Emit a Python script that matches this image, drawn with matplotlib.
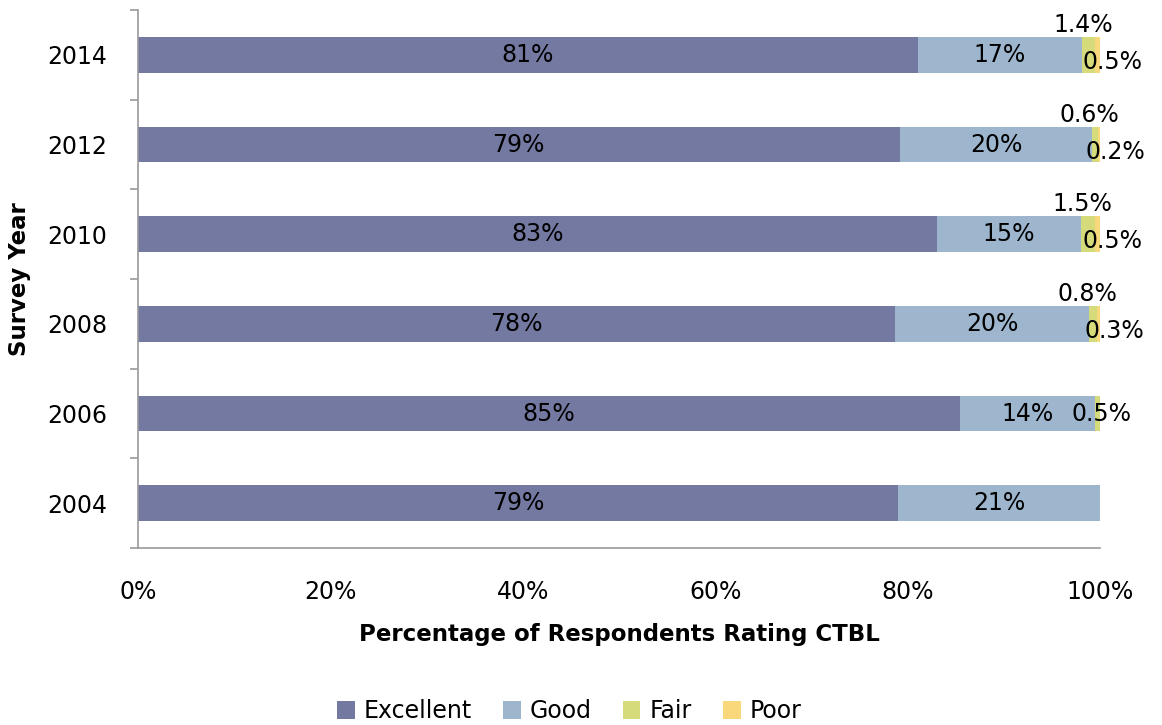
"""Survey ratings of CTBL by year, 100% stacked horizontal bars."""

import matplotlib
matplotlib.use("Agg")
import matplotlib.pyplot as plt
import numpy as np

years = ["2004", "2006", "2008", "2010", "2012", "2014"]
excellent = [79, 85, 78, 83, 79, 81]
good = [21, 14, 20, 15, 20, 17]
fair = [0, 0.5, 0.8, 1.5, 0.6, 1.4]
poor = [0, 0, 0.3, 0.5, 0.2, 0.5]

series_names = ["Excellent", "Good", "Fair", "Poor"]
colors = ["#7379A1", "#9DB6CD", "#D5DB7B", "#F9D87C"]

plt.rcParams["font.family"] = ["DejaVu Sans"]

raw = np.array([excellent, good, fair, poor], dtype=float)
totals = raw.sum(axis=0)
shares = raw / totals * 100  # Excel-style 100% stacking

fig = plt.figure(figsize=(11.62, 7.25), dpi=100)
ax = fig.add_axes([0.1188, 0.2441, 0.8279, 0.742])

y = np.arange(len(years))
left = np.zeros(len(years))
containers = []
for name, color, vals in zip(series_names, colors, shares):
    bars = ax.barh(y, vals, left=left, height=0.4, color=color, label=name,
                   linewidth=0)
    containers.append(bars)
    left += vals

lab_size = 17

# centered labels for the two big segments
for k in range(2):
    for rect, v in zip(containers[k], raw[k]):
        if v <= 0:
            continue
        cx = rect.get_x() + rect.get_width() / 2
        cy = rect.get_y() + rect.get_height() / 2
        ax.text(cx, cy, f"{v:.0f}%", ha="center", va="center", fontsize=lab_size)

# small segments: fair above the bar, poor to the right
for i in range(len(years)):
    f_rect = containers[2][i]
    p_rect = containers[3][i]
    cy = f_rect.get_y() + f_rect.get_height() / 2
    top = f_rect.get_y() + f_rect.get_height()
    if fair[i] > 0 and poor[i] > 0:
        cx = f_rect.get_x() + f_rect.get_width() / 2
        ax.annotate(f"{fair[i]:.1f}%", (cx, top), xytext=(-4, 0),
                    textcoords="offset points", ha="center", va="bottom",
                    fontsize=lab_size)
        ax.annotate(f"{poor[i]:.1f}%", (p_rect.get_x(), cy), xytext=(-9, -5),
                    textcoords="offset points", ha="left", va="center",
                    fontsize=lab_size)
    elif fair[i] > 0:
        cx = f_rect.get_x() + f_rect.get_width() / 2
        ax.annotate(f"{fair[i]:.1f}%", (cx, cy), xytext=(3, 0),
                    textcoords="offset points", ha="center", va="center",
                    fontsize=lab_size)

ax.set_xlim(0, 100)
ax.set_ylim(-0.5, len(years) - 0.5)
ax.set_xticks(np.arange(0, 101, 20))
ax.set_xticklabels([f"{t}%" for t in range(0, 101, 20)], fontsize=17)
ax.set_yticks(y)
ax.set_yticklabels(years, fontsize=17)
ax.set_yticks(np.arange(-0.5, len(years)), minor=True)
ax.tick_params(axis="y", which="major", length=0, pad=22)
ax.tick_params(axis="y", which="minor", length=6, color="#9a9a9a", width=1.2)
ax.tick_params(axis="x", length=0, pad=23)

for side in ("top", "right"):
    ax.spines[side].set_visible(False)
for side in ("left", "bottom"):
    ax.spines[side].set_color("#9a9a9a")
    ax.spines[side].set_linewidth(1.2)

ax.set_xlabel("Percentage of Respondents Rating CTBL", fontsize=16.5,
              fontweight="bold", labelpad=14)
ax.set_ylabel("Survey Year", fontsize=16.5, fontweight="bold", labelpad=12)

fig.legend(loc="lower center", ncol=4, frameon=False, fontsize=17,
           bbox_to_anchor=(0.49, -0.027), handlelength=0.75, handleheight=0.75,
           columnspacing=1.3, handletextpad=0.4)

fig.savefig("out.png", dpi=100)
